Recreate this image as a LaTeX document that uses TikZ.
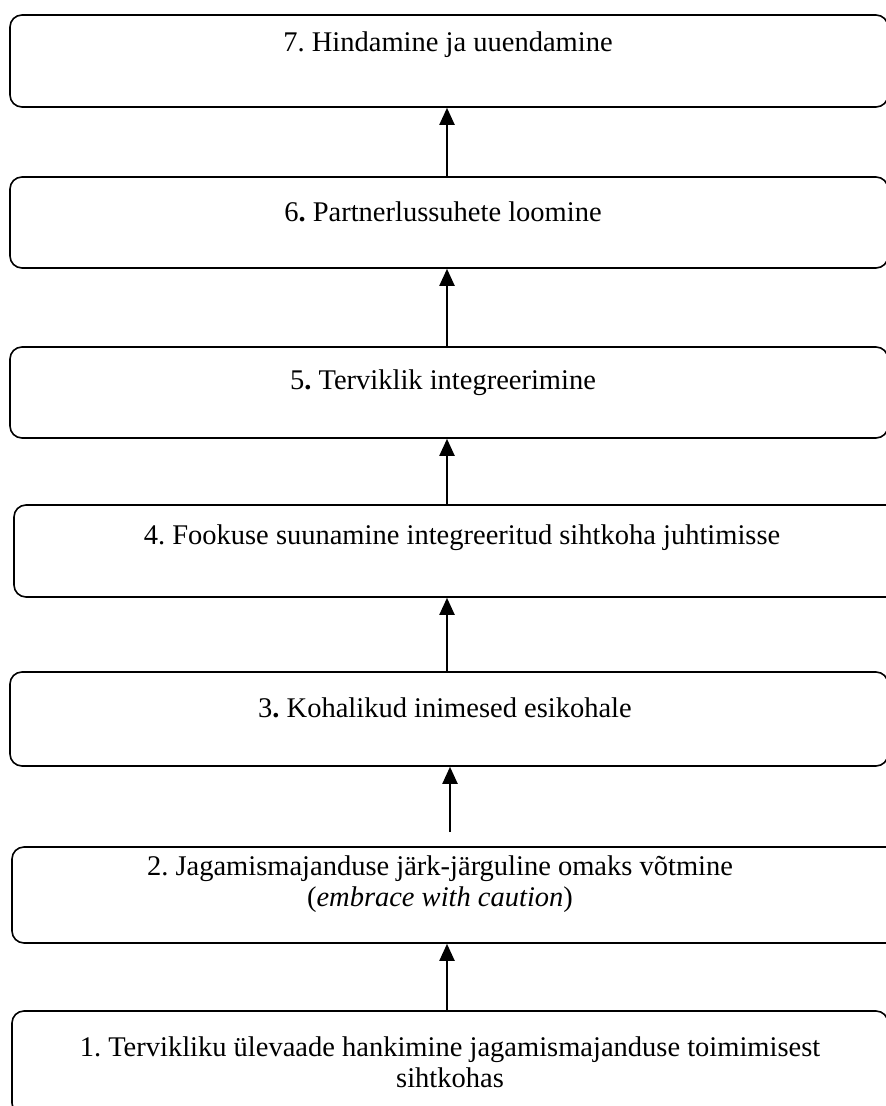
\documentclass[tikz,border=0pt]{standalone}
\usepackage{fontspec}
\setmainfont{Liberation Serif}
\usetikzlibrary{arrows.meta}
\frenchspacing
\begin{document}
\begin{tikzpicture}[x=1pt,y=-1pt,
  stage/.style={draw=black, line width=1.6pt, rounded corners=12pt, inner sep=0pt},
  caption/.style={font=\frenchspacing\fontsize{28.5}{31}\selectfont, inner sep=0pt, align=center, anchor=center},
  flow/.style={line width=2pt, -{Triangle[width=15pt,length=17pt]}}]
\clip (0,0) rectangle (886,1106);
\fill[white] (0,0) rectangle (886,1106);
% stage frames, bottom to top
\node[stage, minimum width=876pt, minimum height=104pt] (b1) at (450,1063) {};
\node[stage, minimum width=888pt, minimum height=96pt] (b2) at (456,895) {};
\node[stage, minimum width=878pt, minimum height=94pt] (b3) at (449,719) {};
\node[stage, minimum width=886pt, minimum height=92pt] (b4) at (457,551) {};
\node[stage, minimum width=878pt, minimum height=91pt] (b5) at (449,392.5) {};
\node[stage, minimum width=878pt, minimum height=91pt] (b6) at (449,222.5) {};
\node[stage, minimum width=878pt, minimum height=92pt] (b7) at (449,61) {};
% stage captions
\node[caption] (t1) at (450,1062) {1. Tervikliku ülevaade hankimine jagamismajanduse toimimisest\\sihtkohas};
\node[caption] (t2) at (440,884) {2. Jagamismajanduse järk-järguline omaks võtmine\\(\textit{embrace with caution})};
\node[caption] (t3) at (445,708) {3\textbf{.} Kohalikud inimesed esikohale};
\node[caption] (t4) at (462,538) {4. Fookuse suunamine integreeritud sihtkoha juhtimisse};
\node[caption] (t5) at (443,383) {5\textbf{.} Terviklik integreerimine};
\node[caption] (t6) at (443,212) {6\textbf{.} Partnerlussuhete loomine};
\node[caption] (t7) at (448,45) {7. Hindamine ja uuendamine};
% upward arrows between stages
\coordinate (ax) at (447,0);
\coordinate (ay) at (450,0);
\draw[flow] (b1.north -| ax) -- (b2.south -| ax);
\draw[flow, shorten <=14pt] (b2.north -| ay) -- (b3.south -| ay);
\draw[flow] (b3.north -| ax) -- (b4.south -| ax);
\draw[flow] (b4.north -| ax) -- (b5.south -| ax);
\draw[flow] (b5.north -| ax) -- (b6.south -| ax);
\draw[flow] (b6.north -| ax) -- (b7.south -| ax);
\end{tikzpicture}
\end{document}
